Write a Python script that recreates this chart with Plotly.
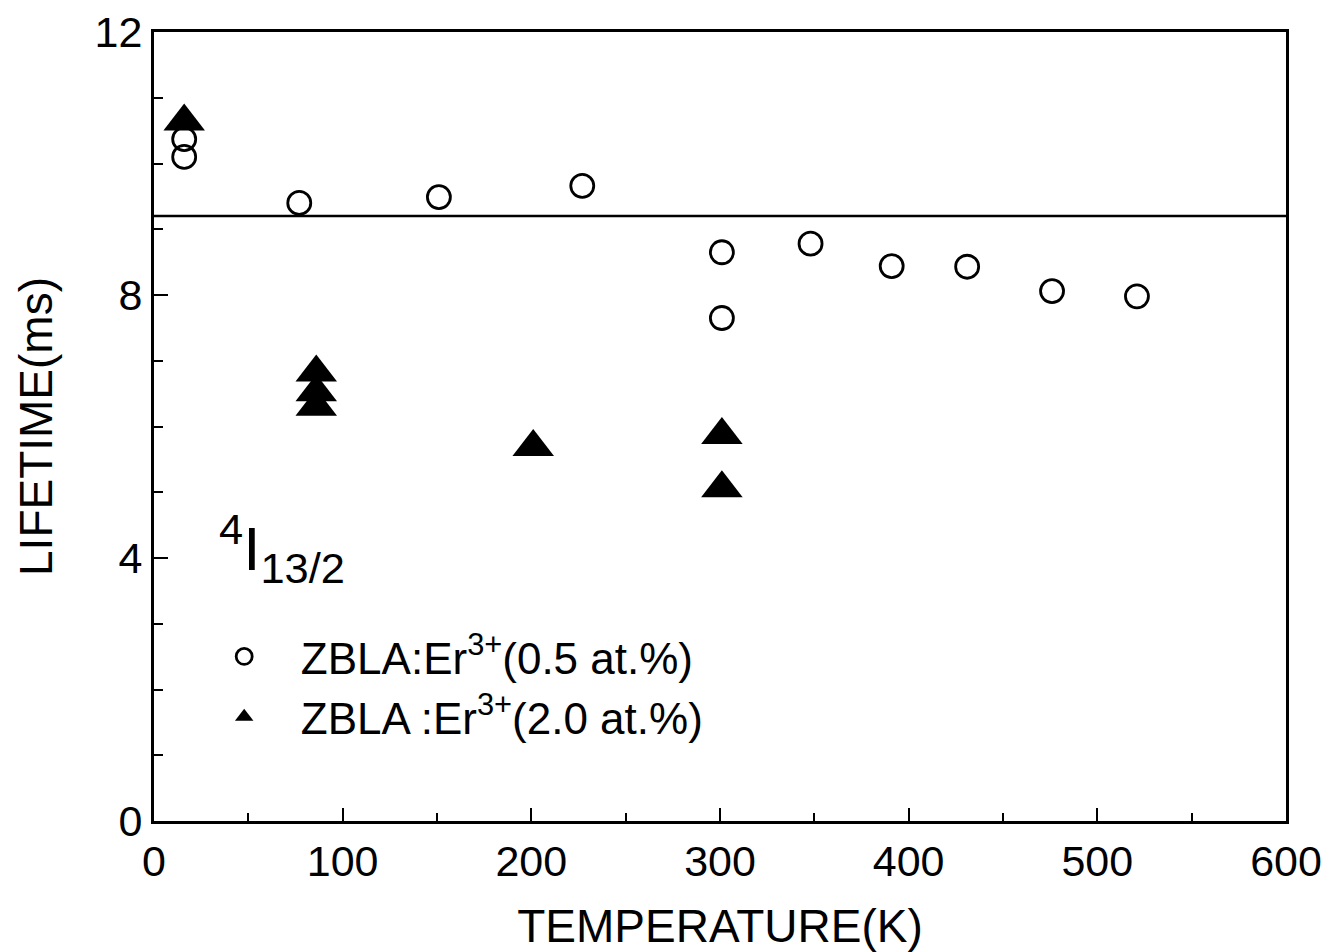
import plotly.graph_objects as go

# Data
circ_T = [16, 16, 77, 151, 227, 301, 301, 348, 391, 431, 476, 521]
circ_L = [10.37, 10.10, 9.40, 9.49, 9.66, 8.65, 7.65, 8.78, 8.44, 8.43, 8.06, 7.98]
tri_T = [16, 86, 86, 86, 201, 301, 301]
tri_L = [10.64, 6.82, 6.52, 6.30, 5.69, 5.87, 5.06]
ref_line_T = [0, 600]
ref_line_L = [9.2, 9.2]

x_ticks = [0, 100, 200, 300, 400, 500, 600]
y_ticks = [0, 4, 8, 12]

FONT = "Liberation Sans, Arial, Helvetica, sans-serif"
NB = "\u00a0"

fig = go.Figure()
fig.add_trace(go.Scatter(
    x=ref_line_T, y=ref_line_L, mode="lines",
    line=dict(color="black", width=2.5), showlegend=False, hoverinfo="skip"))
fig.add_trace(go.Scatter(
    x=circ_T, y=circ_L, mode="markers",
    name=NB * 3 + "ZBLA:Er<sup>3+</sup>(0.5 at.%)",
    marker=dict(symbol="circle-open", size=23, color="black",
                line=dict(color="black", width=2.8))))
fig.add_trace(go.Scatter(
    x=tri_T, y=tri_L, mode="markers",
    name=NB * 3 + "ZBLA :Er<sup>3+</sup>(2.0 at.%)",
    marker=dict(symbol="triangle-up", size=36, color="black",
                line=dict(width=0))))

fig.add_annotation(
    xref="paper", yref="paper", x=0.056, y=0.345, xanchor="left", yanchor="middle",
    text="<sup>4</sup>I<sub>13/2</sub>", showarrow=False,
    font=dict(family=FONT, size=62, color="black"))

fig.update_layout(
    width=1336, height=952,
    margin=dict(l=154, r=50, t=32, b=131),
    paper_bgcolor="white", plot_bgcolor="white",
    font=dict(family=FONT, color="black"),
    showlegend=True,
    legend=dict(x=0.062, y=0.17, xanchor="left", yanchor="middle",
                bgcolor="rgba(0,0,0,0)", itemsizing="trace",
                font=dict(family=FONT, size=44, color="black"),
                tracegroupgap=0),
    xaxis=dict(
        range=[0, 600], tickmode="array", tickvals=x_ticks,
        ticktext=[str(v) for v in x_ticks],
        ticks="inside", ticklen=13, tickwidth=2, tickcolor="black",
        minor=dict(dtick=50, ticks="inside", ticklen=8, tickwidth=2, tickcolor="black"),
        showline=True, linecolor="black", linewidth=3, mirror=True,
        showgrid=False, zeroline=False, automargin=False,
        tickfont=dict(family=FONT, size=43, color="black"),
        ticklabelstandoff=0,
        title=dict(text="TEMPERATURE(K)", font=dict(family=FONT, size=46, color="black"),
                   standoff=31)),
    yaxis=dict(
        range=[0, 12], tickmode="array", tickvals=y_ticks,
        ticktext=[str(v) for v in y_ticks],
        ticks="inside", ticklen=14, tickwidth=2, tickcolor="black",
        minor=dict(dtick=1, ticks="inside", ticklen=9, tickwidth=2, tickcolor="black"),
        showline=True, linecolor="black", linewidth=3, mirror=True,
        showgrid=False, zeroline=False, automargin=False,
        tickfont=dict(family=FONT, size=43, color="black"),
        ticklabelstandoff=0,
        title=dict(text="LIFETIME(ms)", font=dict(family=FONT, size=46, color="black"),
                   standoff=28)),
)

fig.write_html("out.html")
